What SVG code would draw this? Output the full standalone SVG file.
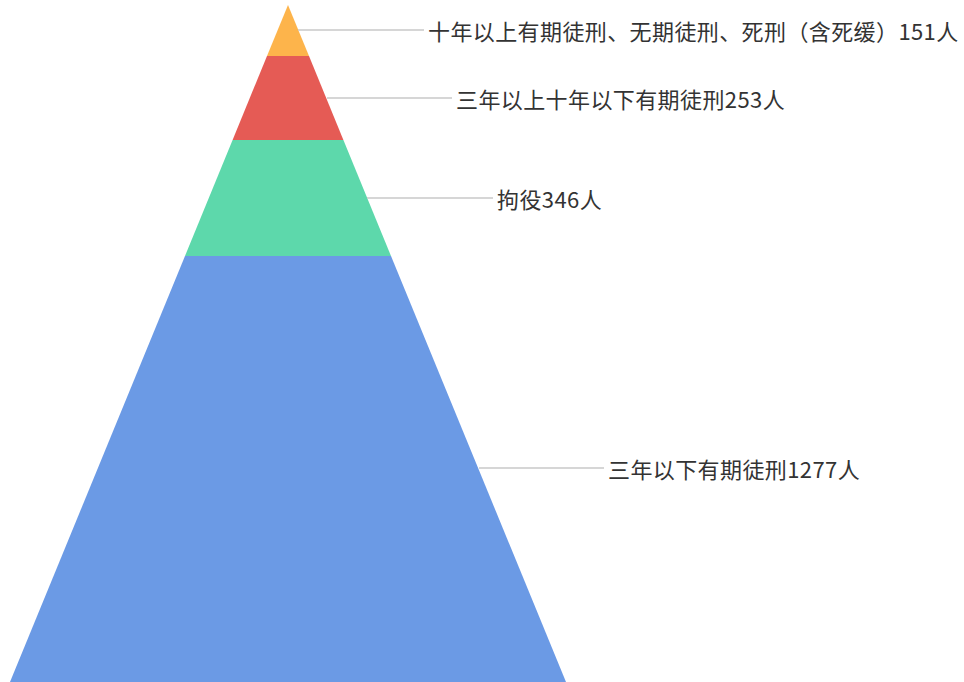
<svg xmlns="http://www.w3.org/2000/svg" width="964" height="682" viewBox="0 0 964 682">
<style>
.lbl{font-family:"Noto Sans CJK SC","Noto Sans",sans-serif;font-size:22px;fill:#333333;dominant-baseline:central;letter-spacing:0.4px}
.ld{stroke:#c8c8c8;stroke-width:1.5;fill:none}
</style>
<rect width="964" height="682" fill="#ffffff"/>
<g id="seg-top"><polygon points="288,5 309,56 267,56" fill="#FDB44B"/></g>
<g id="seg-2"><polygon points="267,56 309,56 343.4,140 232.6,140" fill="#E55B55"/></g>
<g id="seg-3"><polygon points="232.6,140 343.4,140 391,256 185,256" fill="#5DD8AB"/></g>
<g id="seg-4"><polygon points="185,256 391,256 566,682 10,682" fill="#6B9AE5"/></g>
<g id="connectors">
<line class="ld" x1="298" y1="30" x2="424" y2="30"/>
<line class="ld" x1="327" y1="98" x2="452" y2="98"/>
<line class="ld" x1="367" y1="198" x2="493" y2="198"/>
<line class="ld" x1="479" y1="468" x2="604" y2="468"/>
</g>
<g id="labels">
<text class="lbl" x="428" y="30">十年以上有期徒刑、无期徒刑、死刑（含死缓）151人</text>
<text class="lbl" x="456" y="98">三年以上十年以下有期徒刑253人</text>
<text class="lbl" x="497" y="198">拘役346人</text>
<text class="lbl" x="608" y="468">三年以下有期徒刑1277人</text>
</g>
</svg>
